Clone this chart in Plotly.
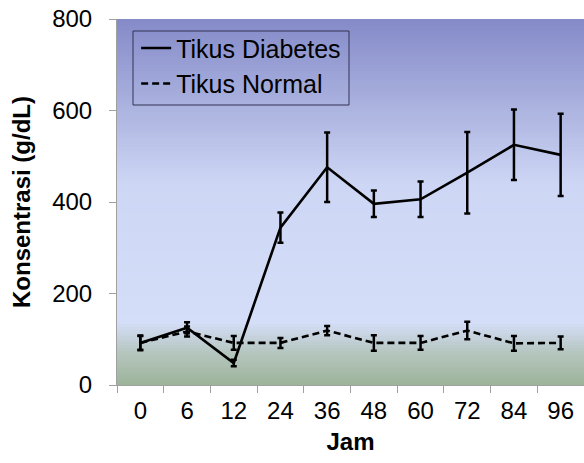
import plotly.graph_objects as go

jam = ["0", "6", "12", "24", "36", "48", "60", "72", "84", "96"]
diabetes = [92, 125, 48, 344, 476, 396, 406, 464, 525, 503]
diabetes_err = [16, 12, 7, 33, 76, 29, 39, 89, 77, 90]
normal = [92, 117, 92, 92, 119, 92, 92, 119, 91, 92]
normal_err = [15, 11, 15, 11, 10, 17, 15, 19, 16, 14]

FONT = "Liberation Sans, Arial, sans-serif"

fig = go.Figure()
fig.add_trace(go.Scatter(
    x=jam, y=diabetes, name="Tikus Diabetes", mode="lines",
    line=dict(color="black", width=2.6),
    error_y=dict(type="data", array=diabetes_err, color="black", thickness=2.5, width=3),
))
fig.add_trace(go.Scatter(
    x=jam, y=normal, name="Tikus Normal", mode="lines",
    line=dict(color="black", width=2.6, dash="7px,4px"),
    error_y=dict(type="data", array=normal_err, color="black", thickness=2.5, width=3),
))

# background gradient (stops in paper fraction from bottom)
stops = [(0.0, (157, 180, 154)), (0.09, (182, 198, 192)), (0.17, (212, 222, 248)),
         (0.55, (205, 214, 244)), (1.0, (132, 138, 200))]

def col(t):
    for (a, ca), (b, cb) in zip(stops[:-1], stops[1:]):
        if a <= t <= b:
            f = (t - a) / (b - a) if b > a else 0
            return "rgb(%d,%d,%d)" % tuple(round(ca[i] + (cb[i] - ca[i]) * f) for i in range(3))
    return "rgb(%d,%d,%d)" % stops[-1][1]

n = 120
shapes = []
for i in range(n):
    y0 = i / n
    y1 = (i + 1) / n + 0.002
    shapes.append(dict(type="rect", xref="paper", yref="paper", x0=0, x1=1, y0=y0, y1=min(y1, 1),
                       fillcolor=col((i + 0.5) / n), line=dict(width=0), layer="below"))
# legend frame
shapes.append(dict(type="rect", xref="paper", yref="paper",
                   x0=16 / 467, x1=232 / 467, y0=280 / 366, y1=354 / 366,
                   fillcolor="rgba(0,0,0,0)", line=dict(color="#333355", width=1), layer="above"))

fig.update_layout(
    width=584, height=463,
    margin=dict(l=117, r=0, t=19, b=78),
    paper_bgcolor="white", plot_bgcolor="rgba(0,0,0,0)",
    shapes=shapes,
    font=dict(family=FONT, size=24, color="black"),
    showlegend=True,
    legend=dict(x=0.041, y=0.983, xanchor="left", yanchor="top",
                bgcolor="rgba(0,0,0,0)", borderwidth=0,
                font=dict(size=25), tracegroupgap=0, itemwidth=30),
    xaxis=dict(
        type="category", tickson="boundaries", ticks="outside", ticklen=7,
        tickcolor="#a0a0a0", showline=True, linecolor="#a0a0a0", linewidth=1,
        showgrid=False, tickfont=dict(size=24), ticklabelstandoff=4,
        title=dict(text="<b>Jam</b>", font=dict(size=24), standoff=10),
    ),
    yaxis=dict(
        range=[0, 800], dtick=200, ticks="outside", ticklen=7, tickcolor="#a0a0a0",
        showline=True, linecolor="#a0a0a0", linewidth=1, showgrid=False, zeroline=False,
        tickfont=dict(size=24), ticklabelstandoff=12,
        title=dict(text="<b>Konsentrasi (g/dL)</b>", font=dict(size=24), standoff=14),
    ),
)

fig.write_html("out.html", config={"displayModeBar": False},
               post_script="document.body.style.margin='0';document.body.style.padding='0';")
